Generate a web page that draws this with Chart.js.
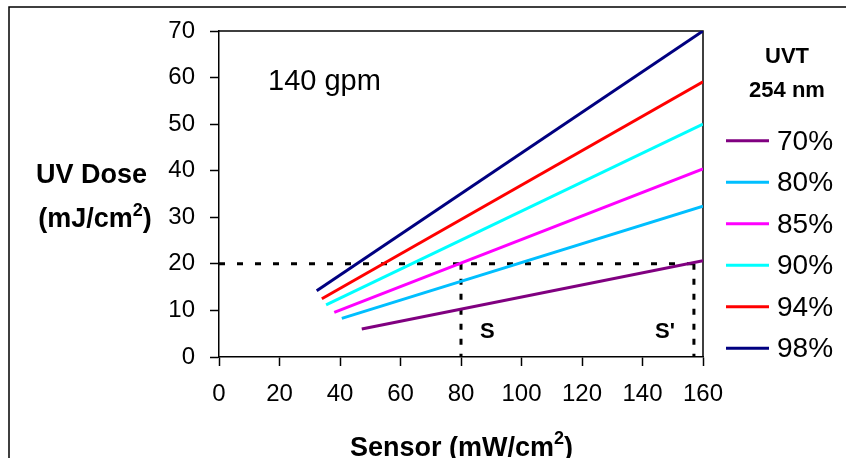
<!DOCTYPE html>
<html><head><meta charset="utf-8">
<script src="https://cdn.jsdelivr.net/npm/chart.js@4/dist/chart.umd.min.js"></script>
<style>html,body{margin:0;padding:0;background:#fff;}canvas{display:block;}</style>
</head><body>
<canvas id="c" width="846" height="458"></canvas>
<script>
// ---- data ----
const seriesLabels = ['70%', '80%', '85%', '90%', '94%', '98%'];
const seriesColors = ['#800080', '#00BFFF', '#FF00FF', '#00FFFF', '#FF0000', '#000080'];
const sensorStart = [47.2, 40.6, 38.1, 35.4, 34.0, 32.3];
const doseStart   = [6.0, 8.3, 9.6, 11.2, 12.5, 14.2];
const sensorEnd   = [160, 160, 160, 160, 160, 160];
const doseEnd     = [20.7, 32.4, 40.4, 50.0, 59.1, 70.0];
const xTicks = [0, 20, 40, 60, 80, 100, 120, 140, 160];
const yTicks = [0, 10, 20, 30, 40, 50, 60, 70];
const targetDose = 20;
const sensorS = 80;
const sensorSPrime = 157;
const flowLabel = '140 gpm';
const legendTitle = ['UVT', '254 nm'];

const FONT = "'Liberation Sans', Arial, sans-serif";

const datasets = seriesLabels.map((lab, i) => ({
  label: lab,
  data: [{x: sensorStart[i], y: doseStart[i]}, {x: sensorEnd[i], y: doseEnd[i]}],
  borderColor: seriesColors[i], backgroundColor: seriesColors[i],
  borderWidth: 3, pointRadius: 0, fill: false, tension: 0
}));
const dashCommon = {borderColor: '#000', backgroundColor: '#000', borderWidth: 3, pointRadius: 0, fill: false, tension: 0, isRef: true};
datasets.push(Object.assign({label: 'ref-h', data: [{x: 0, y: targetDose}, {x: sensorSPrime, y: targetDose}], borderDash: [6, 12]}, dashCommon));
datasets.push(Object.assign({label: 'ref-s', data: [{x: sensorS, y: targetDose}, {x: sensorS, y: 0}], borderDash: [6, 9]}, dashCommon));
datasets.push(Object.assign({label: 'ref-sp', data: [{x: sensorSPrime, y: targetDose}, {x: sensorSPrime, y: 0}], borderDash: [6, 9]}, dashCommon));

function drawSup(ctx, main, sup, tail, cx, baseline, size, supSize, raise) {
  ctx.font = 'bold ' + size + 'px ' + FONT;
  const w1 = ctx.measureText(main).width;
  const w3 = ctx.measureText(tail).width;
  ctx.font = 'bold ' + supSize + 'px ' + FONT;
  const w2 = ctx.measureText(sup).width;
  let x = cx - (w1 + w2 + w3) / 2;
  ctx.textAlign = 'left'; ctx.textBaseline = 'alphabetic';
  ctx.font = 'bold ' + size + 'px ' + FONT;
  ctx.fillText(main, x, baseline); x += w1;
  ctx.font = 'bold ' + supSize + 'px ' + FONT;
  ctx.fillText(sup, x, baseline - raise); x += w2;
  ctx.font = 'bold ' + size + 'px ' + FONT;
  ctx.fillText(tail, x, baseline);
}

const framePlugin = {
  id: 'frame',
  beforeDatasetsDraw(chart) {
    const ctx = chart.ctx, a = chart.chartArea;
    ctx.save();
    ctx.strokeStyle = '#000'; ctx.lineWidth = 1.5;
    ctx.beginPath(); ctx.moveTo(a.left, a.top); ctx.lineTo(a.right, a.top); ctx.lineTo(a.right, a.bottom); ctx.stroke();
    ctx.beginPath(); ctx.moveTo(9, 458); ctx.lineTo(9, 7); ctx.lineTo(846, 7); ctx.stroke();
    ctx.restore();
  },
  afterDraw(chart) {
    const ctx = chart.ctx;
    ctx.save();
    ctx.fillStyle = '#000';
    // flow label
    ctx.font = '29px ' + FONT; ctx.textAlign = 'left'; ctx.textBaseline = 'alphabetic';
    ctx.fillText(flowLabel, 268, 90);
    // S labels
    ctx.font = 'bold 22px ' + FONT;
    ctx.fillText('S', 480, 338);
    ctx.fillText("S'", 655, 338);
    // axis titles
    ctx.font = 'bold 27px ' + FONT; ctx.textAlign = 'center';
    ctx.fillText('UV Dose', 91.5, 183);
    drawSup(ctx, '(mJ/cm', '2', ')', 95, 227, 27, 18, 11);
    drawSup(ctx, 'Sensor (mW/cm', '2', ')', 461.5, 456, 27, 18, 12);
    // legend
    ctx.font = 'bold 22px ' + FONT; ctx.textAlign = 'center';
    ctx.fillText(legendTitle[0], 787, 63);
    ctx.fillText(legendTitle[1], 787, 97);
    const ds = chart.data.datasets.filter(d => !d.isRef);
    ds.forEach((d, i) => {
      const y = 140.7 + i * 41.5;
      ctx.strokeStyle = d.borderColor; ctx.lineWidth = 3;
      ctx.beginPath(); ctx.moveTo(726, y); ctx.lineTo(769, y); ctx.stroke();
      ctx.font = '28px ' + FONT; ctx.textAlign = 'left';
      ctx.fillText(d.label, 777, y + 9);
    });
    ctx.restore();
  }
};

new Chart(document.getElementById('c'), {
  type: 'line',
  data: {datasets},
  options: {
    responsive: false, animation: false, devicePixelRatio: 1,
    layout: {padding: {top: 31, right: 143, left: 0, bottom: 0}},
    plugins: {legend: {display: false}, tooltip: {enabled: false}},
    scales: {
      x: {
        type: 'linear', min: 0, max: 160,
        afterBuildTicks: s => { s.ticks = xTicks.map(v => ({value: v})); },
        afterFit: s => { s.height = 101; },
        grid: {drawOnChartArea: false, drawTicks: true, tickLength: 9, tickColor: '#000', tickWidth: 1.5},
        border: {display: true, color: '#000', width: 1.5},
        ticks: {font: {family: FONT, size: 24}, color: '#000', padding: 14, maxRotation: 0, autoSkip: false}
      },
      y: {
        type: 'linear', min: 0, max: 70,
        afterBuildTicks: s => { s.ticks = yTicks.map(v => ({value: v})); },
        afterFit: s => { s.width = 219; },
        grid: {drawOnChartArea: false, drawTicks: true, tickLength: 9, tickColor: '#000', tickWidth: 1.5},
        border: {display: true, color: '#000', width: 1.5},
        ticks: {font: {family: FONT, size: 24}, color: '#000', padding: 15, autoSkip: false}
      }
    }
  },
  plugins: [framePlugin]
});
</script>
</body></html>
